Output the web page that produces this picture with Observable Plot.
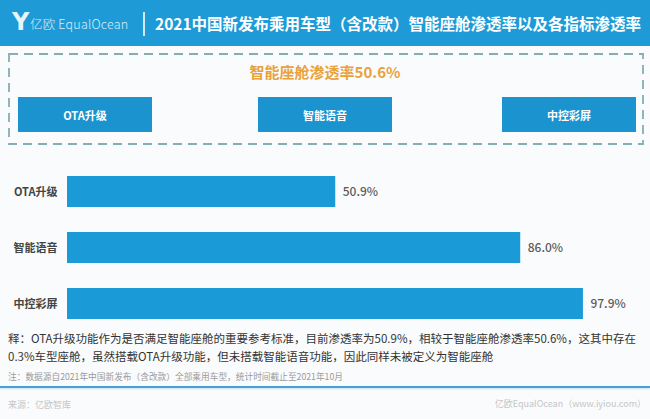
<!DOCTYPE html>
<html>
<head>
<meta charset="utf-8">
<script src="https://cdn.jsdelivr.net/npm/d3@7"></script>
<script src="https://cdn.jsdelivr.net/npm/@observablehq/plot@0.6"></script>
<style>
  html, body { margin: 0; padding: 0; }
  body { width: 650px; height: 419px; position: relative; overflow: hidden; background: #fafbfc;
         font-family: "Noto Sans CJK SC", "Noto Sans", sans-serif; }
  .abs { position: absolute; }
  #header { left: 0; top: 0; width: 650px; height: 46px; background: #1e9bd7; }
  #logoY { left: 12px; top: 7px; color: #e6f4fb; font: 900 24px "DejaVu Sans", sans-serif; line-height: 30px; }
  #logoT { left: 30px; top: 14px; color: #d9eef9; font-size: 12.5px; font-weight: 300; letter-spacing: 0.2px; line-height: 20px; }
  #sep { left: 143px; top: 12px; width: 1.5px; height: 24px; background: #cfe9f7; }
  #title { left: 155px; top: 11px; color: #ffffff; font-size: 15.5px; font-weight: bold; line-height: 24px; white-space: nowrap; }
  #overall { left: 0; width: 650px; top: 61px; text-align: center; color: #e9a23b; font-size: 15px; font-weight: bold; line-height: 22px; }
  .box { top: 97px; width: 134px; height: 35px; background: #1b93cf; color: #fff; font-size: 11px; font-weight: bold;
         display: flex; align-items: center; justify-content: center; }
  #chart { left: 0; top: 147px; }
  .note1 { left: 8px; color: #333; font-size: 11.5px; line-height: 18px; white-space: nowrap; }
  #note2 { left: 8px; top: 370px; color: #9a9a9a; font-size: 8.7px; line-height: 14px; white-space: nowrap; }
  #rule { left: 0; top: 386px; width: 650px; height: 1.5px; background: #4a9fd5; box-shadow: 0 1px 2px rgba(74,159,213,0.3); }
  #src { left: 8px; top: 398px; color: #c6c6c6; font-size: 9px; line-height: 14px; }
  #src2 { right: 4px; top: 397px; color: #c6c6c6; font-size: 9px; line-height: 14px; white-space: nowrap; }
</style>
</head>
<body>
<script>
// ---- data ----
const categories = ["OTA升级", "智能语音", "中控彩屏"];
const rates = [50.9, 86.0, 97.9];
const overallRate = 50.6;
const titleText = "2021中国新发布乘用车型（含改款）智能座舱渗透率以及各指标渗透率";
const noteLines = [
  "释：OTA升级功能作为是否满足智能座舱的重要参考标准，目前渗透率为50.9%，相较于智能座舱渗透率50.6%，这其中存在",
  "0.3%车型座舱，虽然搭载OTA升级功能，但未搭载智能语音功能，因此同样未被定义为智能座舱"
];
const sourceNote = "注：数据源自2021年中国新发布（含改款）全部乘用车型，统计时间截止至2021年10月";
const sourceLeft = "来源：亿欧智库";
const sourceRight = "亿欧EqualOcean（www.iyiou.com）";

const table = categories.map((c, i) => ({category: c, rate: rates[i]}));

function add(tag, id, cls, text, style) {
  const el = document.createElement(tag);
  if (id) el.id = id;
  el.className = "abs" + (cls ? " " + cls : "");
  if (text != null) el.textContent = text;
  if (style) Object.assign(el.style, style);
  document.body.appendChild(el);
  return el;
}

add("div", "header");
add("div", "logoY", null, "Y");
add("div", "logoT", null, "亿欧 EqualOcean");
add("div", "sep");
add("div", "title", null, titleText);

// dashed frame
const ns = "http://www.w3.org/2000/svg";
const frame = document.createElementNS(ns, "svg");
frame.setAttribute("width", 650); frame.setAttribute("height", 150);
frame.style.position = "absolute"; frame.style.left = "0px"; frame.style.top = "0px";
const r = document.createElementNS(ns, "rect");
r.setAttribute("x", 9); r.setAttribute("y", 54); r.setAttribute("width", 634); r.setAttribute("height", 90);
r.setAttribute("fill", "none"); r.setAttribute("stroke", "#86adb2"); r.setAttribute("stroke-width", 1.8);
r.setAttribute("stroke-dasharray", "9,6");
frame.appendChild(r);
document.body.appendChild(frame);

add("div", "overall", null, "智能座舱渗透率" + overallRate.toFixed(1) + "%");
const boxLefts = [18, 258, 502];
categories.forEach((c, i) => add("div", null, "box", c, {left: boxLefts[i] + "px"}));

// ---- bar chart ----
const chart = Plot.plot({
  width: 650,
  height: 198,
  marginLeft: 67,
  marginRight: 56,
  marginTop: 4,
  marginBottom: 0,
  style: {background: "transparent", fontFamily: "'Noto Sans CJK SC', sans-serif", overflow: "visible"},
  x: {domain: [0, 100], axis: null},
  y: {domain: categories, padding: 0.44, label: null},
  marks: [
    Plot.barX(table, {x: "rate", y: "category", fill: "#1a9bd7"}),
    Plot.text(table, {x: "rate", y: "category", text: d => d.rate.toFixed(1) + "%", dx: 7, textAnchor: "start",
      fill: "#5a5a5a", fontSize: 12, fontWeight: 500}),
    Plot.axisY({tickSize: 0, tickPadding: 10, fontSize: 11, fontWeight: "bold", color: "#444", label: null})
  ]
});
chart.id = "chart";
chart.classList.add("abs");
chart.style.position = "absolute";
document.body.appendChild(chart);
chart.querySelectorAll("g[aria-label='y-axis tick label'] text, g[aria-label='y-axis tick label']").forEach(t => {
  t.setAttribute("fill", "#444"); t.setAttribute("font-weight", "bold");
});

noteLines.forEach((t, i) => add("div", null, "note1", t, {top: (329 + i * 18) + "px"}));
add("div", "note2", null, sourceNote);
add("div", "rule");
add("div", "src", null, sourceLeft);
add("div", "src2", null, sourceRight);
</script>
</body>
</html>
